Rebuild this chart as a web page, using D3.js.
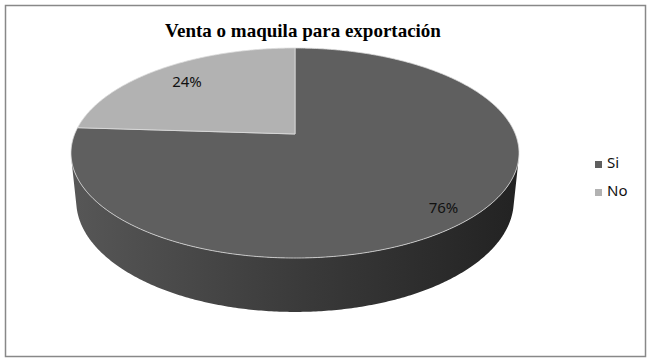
<!DOCTYPE html>
<html lang="en">
<head>
<meta charset="UTF-8">
<title>Venta o maquila para exportación</title>
<script src="https://d3js.org/d3.v7.min.js"></script>
<style>
    body { margin: 0; background: #fff; }
    .title { font-family: "Liberation Serif", "Times New Roman", serif; font-weight: bold; font-size: 19px; text-anchor: middle; }
    .label { font-family: "Noto Sans", Arial, sans-serif; font-size: 15px; text-anchor: middle; fill: #111; }
    .legend text { font-family: "Noto Sans", Arial, sans-serif; font-size: 15px; fill: #111; }
</style>
</head>
<body>
<script>
    const title = "Venta o maquila para exportación";
    const categories = ["Si", "No"];
    const values = [76, 24];
    const colors = ["#5f5f5f", "#b2b2b2"];

    const width = 652, height = 364;

    const svg = d3.select("body").append("svg")
        .attr("width", width)
        .attr("height", height);

    // frame
    svg.append("rect")
        .attr("x", 5.5).attr("y", 5.5)
        .attr("width", 640).attr("height", 351)
        .attr("fill", "#fff")
        .attr("stroke", "#888")
        .attr("stroke-width", 1.5);

    svg.append("text")
        .attr("class", "title")
        .attr("x", 303).attr("y", 37)
        .text(title);

    // 3d projection of a flat disc, seen from above with perspective
    const cx = 295, cy = 134;
    const R = 1, D = 4.9, f = 1079.5, h = 0.247;
    const phi = 27.45 * Math.PI / 180;
    const sinP = Math.sin(phi), cosP = Math.cos(phi);

    function proj(a, rho, w) {
        const u = rho * R * Math.sin(a);
        const v = rho * R * Math.cos(a);
        const depth = D + v * cosP - w * sinP;
        return [cx + f * u / depth, cy - f * (v * sinP + w * cosP) / depth];
    }

    function arcPoints(a0, a1, w) {
        const n = Math.max(2, Math.ceil(Math.abs(a1 - a0) / 0.01));
        return d3.range(n + 1).map(i => proj(a0 + (a1 - a0) * i / n, 1, w));
    }

    const pie = d3.pie().sort(null).value(d => d);
    const arcs = pie(values);

    const line = d3.line();

    const grad = svg.append("defs").append("linearGradient")
        .attr("id", "side")
        .attr("gradientUnits", "userSpaceOnUse")
        .attr("x1", 70).attr("x2", 520).attr("y1", 0).attr("y2", 0);
    grad.append("stop").attr("offset", 0).attr("stop-color", "#575757");
    grad.append("stop").attr("offset", 0.5).attr("stop-color", "#3b3b3b");
    grad.append("stop").attr("offset", 1).attr("stop-color", "#222");

    // visible part of the outer wall: cos(a) < -R / (D cos(phi))
    const lim = Math.acos(-R / (D * cosP));
    const vis0 = lim, vis1 = 2 * Math.PI - lim;

    arcs.forEach((d, i) => {
        const a0 = Math.max(d.startAngle, vis0);
        const a1 = Math.min(d.endAngle, vis1);
        if (a1 <= a0) return;
        const pts = arcPoints(a0, a1, 0).concat(arcPoints(a1, a0, -h));
        svg.append("path")
            .attr("d", line(pts) + "Z")
            .attr("fill", "url(#side)");
    });

    arcs.forEach((d, i) => {
        const pts = [proj(0, 0, 0)].concat(arcPoints(d.startAngle, d.endAngle, 0));
        svg.append("path")
            .attr("d", line(pts) + "Z")
            .attr("fill", colors[i])
            .attr("stroke", "#dcdcdc")
            .attr("stroke-width", 0.8)
            .attr("stroke-linejoin", "round");
    });

    // percentage labels
    const total = d3.sum(values);
    arcs.forEach((d, i) => {
        const mid = (d.startAngle + d.endAngle) / 2;
        const p = proj(mid, 0.84, 0);
        svg.append("text")
            .attr("class", "label")
            .attr("x", p[0] + 6).attr("y", p[1] + 9)
            .text(Math.round(d.data / total * 100) + "%");
    });

    // legend
    const legend = svg.append("g").attr("class", "legend");
    categories.forEach((c, i) => {
        const y = 161 + i * 28;
        legend.append("rect")
            .attr("x", 595).attr("y", y)
            .attr("width", 7).attr("height", 7)
            .attr("fill", colors[i]);
        legend.append("text")
            .attr("x", 607).attr("y", y + 7)
            .text(c);
    });
</script>
</body>
</html>
